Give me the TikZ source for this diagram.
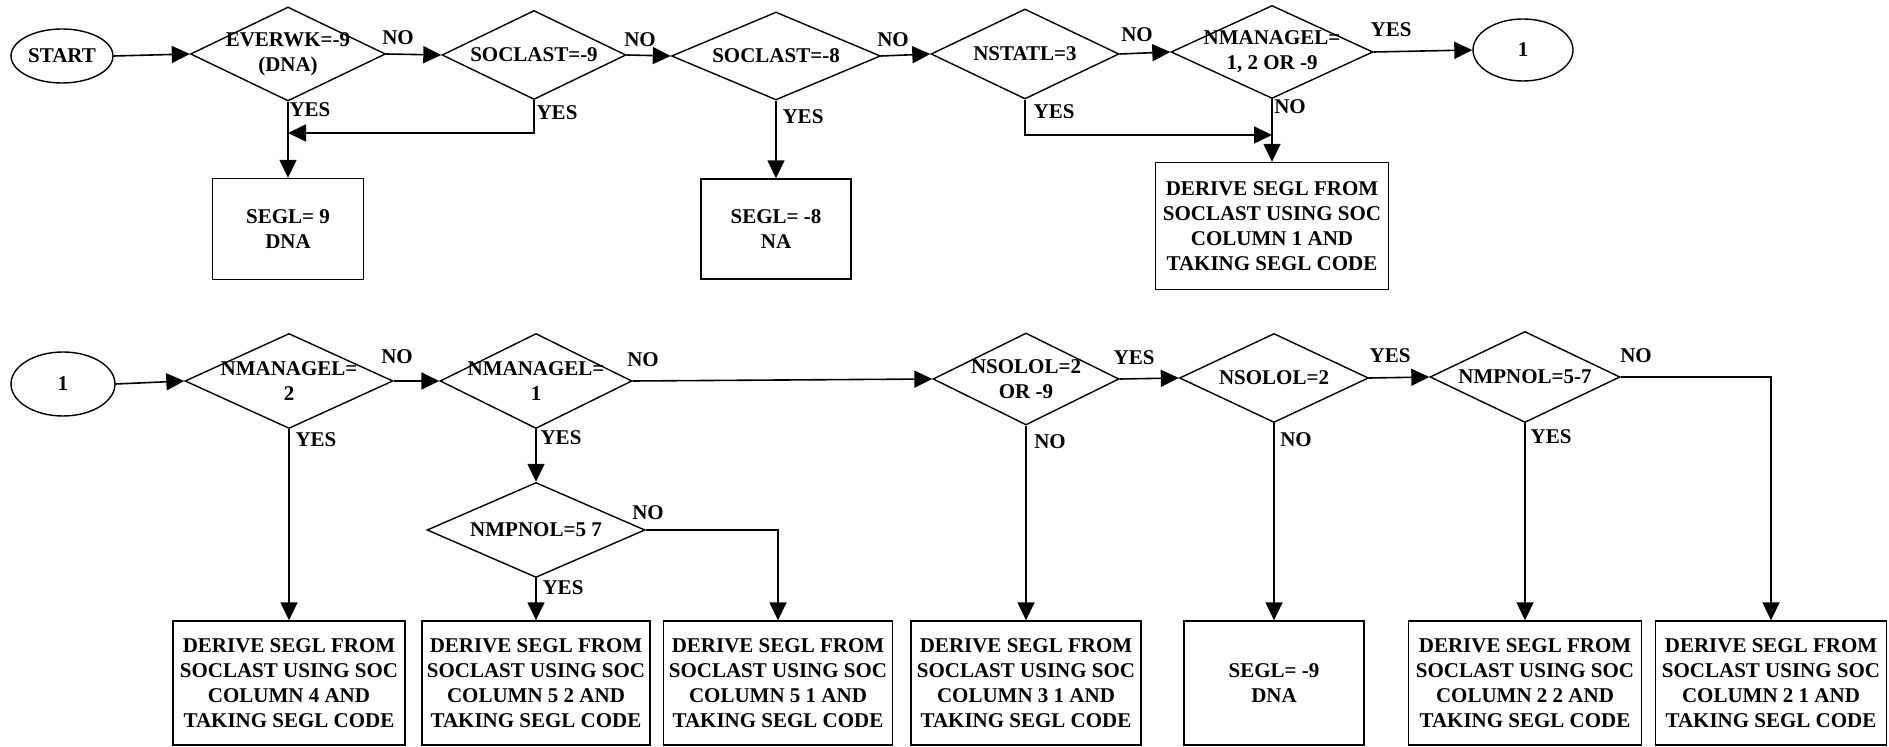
\documentclass[tikz,border=0pt]{standalone}
\usepackage{fontspec}
\setmainfont{Liberation Serif}
\usetikzlibrary{shapes.geometric,arrows.meta}

\begin{document}
\begin{tikzpicture}[%
x=0.5pt, y=-0.5pt,
>={Triangle[length=9pt,width=8.5pt]},
every node/.style={font=\bfseries\fontsize{10.5}{12.5}\selectfont},
wh/.style 2 args={minimum width=#1*0.5pt, minimum height=#2*0.5pt},
test/.style={diamond, draw, line width=0.7pt, inner sep=0pt},
proc/.style={rectangle, draw, line width=0.7pt, align=center, inner sep=0pt},
term/.style={ellipse, draw, line width=0.7pt, inner sep=0pt},
flow/.style={line width=0.8pt, ->},
]
\useasboundingbox (0,0) rectangle (1889,747);
%% first row;
\node [term, wh={102}{54}] (start) at (62,56) {START};
\node [test, wh={195}{94}, label={[align=center]center:{EVERWK=-9\\(DNA)}}] (everwk) at (288,54) {};
\node [test, wh={184}{89}, label={center:{SOCLAST=-9}}] (socA) at (534,55) {};
\node [test, wh={209}{88}, label={center:{SOCLAST=-8}}] (socB) at (776,56) {};
\node [test, wh={188}{90}, label={center:{NSTATL=3}}] (nstatl) at (1025,54) {};
\node [test, wh={202}{93}, label={[align=center]center:{NMANAGEL=\\1, 2 OR -9}}] (mgA) at (1272,52) {};
\node [term, wh={100}{62}] (oneA) at (1523,50) {1};
\node [proc, wh={151}{101}] (seglA) at (288,229) {SEGL= 9\\DNA};
\node [proc, wh={150}{100}] (seglB) at (776,229) {SEGL= -8\\NA};
\node [proc, wh={233}{127}] (col1) at (1272,226) {DERIVE SEGL FROM\\SOCLAST USING SOC\\COLUMN 1 AND\\TAKING SEGL CODE};
\coordinate (mA) at (288,133);
\coordinate (mB) at (1272,135);
%% flow;
\draw [flow] (start.east) -- (everwk.west);
\draw [flow] (everwk.east) -- (socA.west);
\draw [flow] (socA.east) -- (socB.west);
\draw [flow] (socB.east) -- (nstatl.west);
\draw [flow] (nstatl.east) -- (mgA.west);
\draw [flow] (mgA.east) -- (oneA.west);
\draw [flow] (everwk.south) -- (seglA.north);
\draw [flow] (socA.south) |- (mA);
\draw [flow] (socB.south) -- (seglB.north);
\draw [flow] (nstatl.south) |- (mB);
\draw [flow] (mgA.south) -- (col1.north);
%% label;
\node (noA) at (398,38) {NO};
\node (noB) at (640,40) {NO};
\node (noC) at (893,40) {NO};
\node (noD) at (1137,35) {NO};
\node (yesA) at (1391,30) {YES};
\node (yesB) at (310,110) {YES};
\node (yesC) at (557,113) {YES};
\node (yesD) at (803,117) {YES};
\node (yesE) at (1054,112) {YES};
\node (noE) at (1290,107) {NO};
%% second row;
\node [term, wh={104}{64}] (oneB) at (63,384) {1};
\node [test, wh={208}{95}, label={[align=center]center:{NMANAGEL=\\2}}] (mgB) at (289,381) {};
\node [test, wh={192}{95}, label={[align=center]center:{NMANAGEL=\\1}}] (mgC) at (536,381) {};
\node [test, wh={218}{95}, label={center:{NMPNOL=5 7}}] (mpA) at (536,530) {};
\node [test, wh={186}{92}, label={[align=center]center:{NSOLOL=2\\OR -9}}] (soA) at (1026,379) {};
\node [test, wh={189}{89}, label={center:{NSOLOL=2}}] (soB) at (1274,378) {};
\node [test, wh={190}{91}, label={center:{NMPNOL=5-7}}] (mpB) at (1525,377) {};
\node [proc, wh={232}{124}] (col4) at (289,683) {DERIVE SEGL FROM\\SOCLAST USING SOC\\COLUMN 4 AND\\TAKING SEGL CODE};
\node [proc, wh={228}{124}] (col52) at (536,683) {DERIVE SEGL FROM\\SOCLAST USING SOC\\COLUMN 5 2 AND\\TAKING SEGL CODE};
\node [proc, wh={229}{124}] (col51) at (778,683) {DERIVE SEGL FROM\\SOCLAST USING SOC\\COLUMN 5 1 AND\\TAKING SEGL CODE};
\node [proc, wh={230}{124}] (col31) at (1026,683) {DERIVE SEGL FROM\\SOCLAST USING SOC\\COLUMN 3 1 AND\\TAKING SEGL CODE};
\node [proc, wh={180}{124}] (seglC) at (1274,683) {SEGL= -9\\DNA};
\node [proc, wh={233}{124}] (col22) at (1525,683) {DERIVE SEGL FROM\\SOCLAST USING SOC\\COLUMN 2 2 AND\\TAKING SEGL CODE};
\node [proc, wh={231}{124}] (col21) at (1771,683) {DERIVE SEGL FROM\\SOCLAST USING SOC\\COLUMN 2 1 AND\\TAKING SEGL CODE};
%% flow;
\draw [flow] (oneB.east) -- (mgB.west);
\draw [flow] (mgB.east) -- (mgC.west);
\draw [flow] (mgC.east) -- (soA.west);
\draw [flow] (soA.east) -- (soB.west);
\draw [flow] (soB.east) -- (mpB.west);
\draw [flow] (mgB.south) -- (col4.north);
\draw [flow] (mgC.south) -- (mpA.north);
\draw [flow] (mpA.south) -- (col52.north);
\draw [flow] (mpA.east) -| (col51.north);
\draw [flow] (soA.south) -- (col31.north);
\draw [flow] (soB.south) -- (seglC.north);
\draw [flow] (mpB.south) -- (col22.north);
\draw [flow] (mpB.east) -| (col21.north);
%% label;
\node (noF) at (397,357) {NO};
\node (noG) at (643,360) {NO};
\node (yesF) at (1134,358) {YES};
\node (yesG) at (1390,356) {YES};
\node (noH) at (1636,356) {NO};
\node (yesH) at (316,440) {YES};
\node (yesI) at (561,438) {YES};
\node (noI) at (648,513) {NO};
\node (yesJ) at (563,588) {YES};
\node (noJ) at (1050,442) {NO};
\node (noK) at (1296,440) {NO};
\node (yesK) at (1551,437) {YES};
\end{tikzpicture}
\end{document}
